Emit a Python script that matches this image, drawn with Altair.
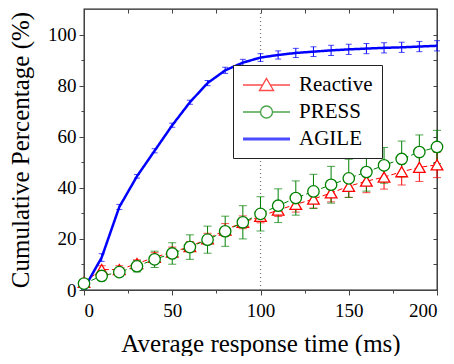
import altair as alt
import pandas as pd

# ---- data ----
x_ms = [0, 10, 20, 30, 40, 50, 60, 70, 80, 90, 100, 110, 120, 130, 140, 150, 160, 170, 180, 190, 200]
series_names = ["Reactive", "PRESS", "AGILE"]
series_colors = ["#ff0000", "#008000", "#0000ff"]

reactive = [3, 8, 8, 10.3, 12.8, 14.8, 17, 20, 23.5, 26.5, 28.8, 31.3, 33.5, 35.6, 38, 40.6, 42.6, 44.2, 46.3, 48, 49]
reactive_err = [0.8, 1.5, 1.5, 1.5, 1.8, 2, 2, 2.2, 2.5, 2.5, 2.5, 2.5, 3, 3.5, 3.5, 4.3, 4.5, 4.7, 5.2, 5.5, 5]
press = [2.5, 5.5, 7, 9.3, 12, 14.3, 16.8, 19.7, 23, 26.5, 29.8, 33, 36, 38.6, 41.2, 43.7, 46.2, 48.8, 51.3, 54, 56]
press_err = [1, 1.2, 1.5, 2.2, 3.2, 4.2, 4.8, 5.3, 5.9, 6.5, 6.7, 6.6, 6.7, 6.7, 7.2, 7.5, 7.5, 7, 7, 6.7, 6.5]
agile = [0.5, 12.7, 32.5, 44.5, 54.5, 64.5, 73.5, 81, 86, 89, 91, 92, 92.8, 93.3, 93.8, 94.2, 94.5, 94.8, 95, 95.3, 95.6]
agile_err = [0.3, 1.5, 1, 0.7, 0.8, 0.8, 0.8, 1, 1.2, 1.3, 1.5, 1.6, 1.8, 1.9, 2, 2, 2, 2, 2, 2, 2]

ref_x = [100]
x_tick_values = [0, 25, 50, 75, 100, 125, 150, 175, 200]
y_tick_values = [0, 10, 20, 30, 40, 50, 60, 70, 80, 90, 100]

rows = []
for name, vals, errs in zip(series_names, [reactive, press, agile], [reactive_err, press_err, agile_err]):
    for t, v, e in zip(x_ms, vals, errs):
        rows.append({"t": t, "pct": v, "lo": v - e, "hi": v + e, "series": name})
df = pd.DataFrame(rows)
ref_df = pd.DataFrame({"t": ref_x})

FONT = "Liberation Serif"

x_axis = alt.Axis(
    title="Average response time (ms)",
    values=x_tick_values,
    labelExpr="datum.value % 50 == 0 ? datum.label : ''",
    tickSize={"condition": {"test": "datum.value % 50 != 0", "value": 3}, "value": 5},
    grid=False, labelFont=FONT, labelFontSize=19, labelColor="black",
    titleFont=FONT, titleFontSize=25, titleFontWeight="normal", titleColor="black",
    labelPadding=6, titlePadding=11, domainColor="#444", tickColor="#444",
)
y_axis = alt.Axis(
    title="Cumulative Percentage (%)",
    values=y_tick_values,
    labelExpr="datum.value % 20 == 0 ? datum.label : ''",
    tickSize={"condition": {"test": "datum.value % 20 != 0", "value": 3}, "value": 5},
    grid=False, labelFont=FONT, labelFontSize=19, labelColor="black",
    titleFont=FONT, titleFontSize=25, titleFontWeight="normal", titleColor="black",
    labelPadding=3, titlePadding=14, domainColor="#444", tickColor="#444",
)
# inward-pointing ticks on the top and right frame edges
x_top_axis = alt.Axis(orient="top", values=x_tick_values, labels=False, domain=False, grid=False,
                      title=None, tickSize=4, offset=-4, tickColor="#444")
y_right_axis = alt.Axis(orient="right", values=y_tick_values, labels=False, domain=False, grid=False,
                        title=None, tickSize=4, offset=-4, tickColor="#444")

xs = alt.Scale(domain=[0, 200], nice=False, padding=0)
ys = alt.Scale(domain=[0, 110], nice=False, padding=0)
X = alt.X("t:Q", scale=xs, axis=None)


def Y(field):
    return alt.Y(field, scale=ys, axis=None)


base = alt.Chart(df)
empty = base.transform_filter("datum.t < 0")

axes_main = empty.mark_point(opacity=0).encode(
    x=alt.X("t:Q", scale=xs, axis=x_axis), y=alt.Y("pct:Q", scale=ys, axis=y_axis))
axes_inner = empty.mark_point(opacity=0).encode(
    x=alt.X("t:Q", scale=xs, axis=x_top_axis), y=alt.Y("pct:Q", scale=ys, axis=y_right_axis))

layers = [axes_main, axes_inner,
          alt.Chart(ref_df).mark_rule(color="#777", strokeDash=[1, 3], strokeWidth=1.2).encode(x=X)]

styles = {
    "Reactive": dict(cap=8, width=1, dash=[5, 3], shape="triangle-up", size=135),
    "PRESS": dict(cap=8, width=1, dash=[5, 3], shape="circle", size=130),
    "AGILE": dict(cap=6, width=2.5, dash=[1, 0], shape=None, size=0),
}

marker_layers = []
for name, col in zip(series_names, series_colors):
    st = styles[name]
    sub = base.transform_filter(alt.datum.series == name)
    layers.append(sub.mark_rule(color=col, strokeWidth=1).encode(x=X, y=Y("lo:Q"), y2="hi:Q"))
    layers.append(sub.mark_tick(color=col, orient="horizontal", thickness=1, size=st["cap"]).encode(x=X, y=Y("lo:Q")))
    layers.append(sub.mark_tick(color=col, orient="horizontal", thickness=1, size=st["cap"]).encode(x=X, y=Y("hi:Q")))
    layers.append(sub.mark_line(color=col, strokeWidth=st["width"], strokeDash=st["dash"]).encode(x=X, y=Y("pct:Q")))
    if st["shape"]:
        marker_layers.append(sub.mark_point(
            shape=st["shape"], filled=True, fill="white", stroke=col, strokeWidth=1.3, size=st["size"], opacity=1
        ).encode(x=X, y=Y("pct:Q")))

# legend symbols (line + marker) as custom paths; 1 unit = 10 px for symbolSize 400
tri_path = "M-1,0L0.97,0M1.73,0L3.7,0M1.35,-0.65L2.05,0.55L0.65,0.55Z"
circ_path = ("M-1,0L0.75,0M1.95,0L3.7,0M1.35,-0.6C1.681,-0.6,1.95,-0.331,1.95,0C1.95,0.331,1.681,0.6,1.35,0.6"
             "C1.019,0.6,0.75,0.331,0.75,0C0.75,-0.331,1.019,-0.6,1.35,-0.6Z")
line_path = "M-1,-0.08L3.7,-0.08M-1,0L3.7,0M-1,0.08L3.7,0.08"

leg = alt.Legend(
    title=None, orient="none", legendX=149, legendY=56, direction="vertical",
    strokeColor="#222", fillColor="white", padding=9,
    labelFont=FONT, labelFontSize=21, labelColor="black", labelOffset=35,
    symbolSize=400, symbolStrokeWidth=1.4, rowPadding=6,
)
# legend-only layer: no rows pass the filter, the legend comes from the explicit domains
legend_layer = empty.mark_point(filled=False).encode(
    x=X, y=Y("pct:Q"),
    color=alt.Color("series:N", scale=alt.Scale(domain=series_names, range=series_colors), legend=leg),
    shape=alt.Shape("series:N", scale=alt.Scale(domain=series_names, range=[tri_path, circ_path, line_path]), legend=leg),
)

chart = alt.layer(*layers, *marker_layers, legend_layer).resolve_axis(
    x="independent", y="independent"
).properties(
    width=353, height=281, padding={"left": 0, "top": 0, "right": 0, "bottom": 0}
).configure_view(
    stroke="#222", strokeWidth=1.3
)

chart.save("out.html", embed_options={"renderer": "svg", "actions": False})
